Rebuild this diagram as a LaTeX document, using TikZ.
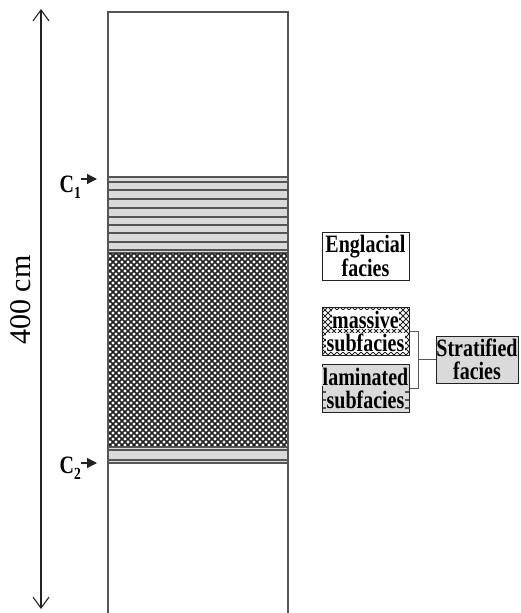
\documentclass[tikz,border=0pt]{standalone}
\usepackage{fontspec}
\setmainfont{Liberation Serif}
\usetikzlibrary{arrows.meta}
\definecolor{lam}{HTML}{DADADA}
\definecolor{lin}{HTML}{555555}
\definecolor{ink}{HTML}{222222}
\newcommand\sqz[1]{\scalebox{0.8}[1]{#1}}
\newcommand\wbg[2]{{\setlength\fboxsep{0.6pt}\colorbox{#1}{\sqz{#2}}}}
\begin{document}
\begin{tikzpicture}[x=1pt,y=-1pt,
  legbox/.style={draw=ink, line width=1pt, minimum width=87pt, minimum height=48pt, inner sep=0pt, align=center, font=\fontsize{25}{23}\selectfont\bfseries},
  hatch/.style={line width=1.6pt, ink},
  strip/.style={line width=1.1pt, lin},
  clabel/.style={font=\fontsize{25}{25}\selectfont\bfseries, inner sep=0pt},
  carrow/.style={ink, line width=1.2pt, -{Triangle[length=10pt,width=10pt]}},
  conn/.style={lin, line width=1pt}]
\useasboundingbox (0,0) rectangle (520,613);

% column: upper laminated band
\fill[lam] (108,177) rectangle (288,253);
\foreach \y in {177,182,190,199,208,217,225,233,242,250,253} \draw[strip] (108,\y) -- (288,\y);
% massive (cross-hatched) band
\begin{scope}
\clip (108,253) rectangle (288,447);
\foreach \c in {-100,-94,...,500} {\draw[hatch] (\c,253) -- ++(200,200); \draw[hatch] (\c,253) -- ++(-200,200);}
\end{scope}
% lower laminated band
\fill[lam] (108,447) rectangle (288,463);
\foreach \y in {447,450,460,463} \draw[strip] (108,\y) -- (288,\y);
% column outline
\draw[lin, line width=1.4pt] (108,615) -- (108,12) -- (288,12) -- (288,615);

% depth arrow
\coordinate (top) at (41,9);
\coordinate (bot) at (41,609);
\draw[ink, line width=1.1pt, {Straight Barb[length=11pt,width=16pt]}-{Straight Barb[length=11pt,width=16pt]}] (top) -- (bot);
\node[rotate=90, font=\fontsize{30}{30}\selectfont] (depth) at (21,300) {400 cm};

% core labels
\node[clabel, anchor=east] (c1) at (81,187) {\sqz{C\raisebox{-6pt}{\fontsize{17}{17}\selectfont 1}}};
\coordinate (c1t) at (97,179);
\draw[carrow] (c1t -| c1.east) -- (c1t);
\node[clabel, anchor=east] (c2) at (81,468) {\sqz{C\raisebox{-6pt}{\fontsize{17}{17}\selectfont 2}}};
\coordinate (c2t) at (97,463);
\draw[carrow] (c2t -| c2.east) -- (c2t);

% legend
\node[legbox] (eng) at (365.5,256) {\sqz{Englacial}\\\sqz{facies}};
\node[legbox, path picture={
    \foreach \c in {-60,-54,...,150} {
      \draw[ink, line width=0.9pt] ([xshift=\c pt]path picture bounding box.north west) -- ++(60,60);
      \draw[ink, line width=0.9pt] ([xshift=\c pt]path picture bounding box.north west) -- ++(-60,60);}
  }] (mas) at (365.5,331) {\wbg{white}{massive}\\\wbg{white}{subfacies}};
\node[legbox, fill=lam, path picture={
    \foreach \d in {4,12,...,48}
      \draw[strip] ([yshift=-\d pt]path picture bounding box.north west) -- ++(100,0);
  }] (lamb) at (365.5,388) {\wbg{lam}{laminated}\\\wbg{lam}{subfacies}};
\node[legbox, fill=lam, minimum width=82pt, minimum height=47pt] (str) at (477,359.5) {\sqz{Stratified}\\\sqz{facies}};

% bracket
\coordinate (bx) at (418,0);
\draw[conn] (mas.east) -- (mas.east -| bx) -- (lamb.east -| bx) -- (lamb.east);
\draw[conn] (str.west -| bx) -- (str.west);
\end{tikzpicture}
\end{document}
